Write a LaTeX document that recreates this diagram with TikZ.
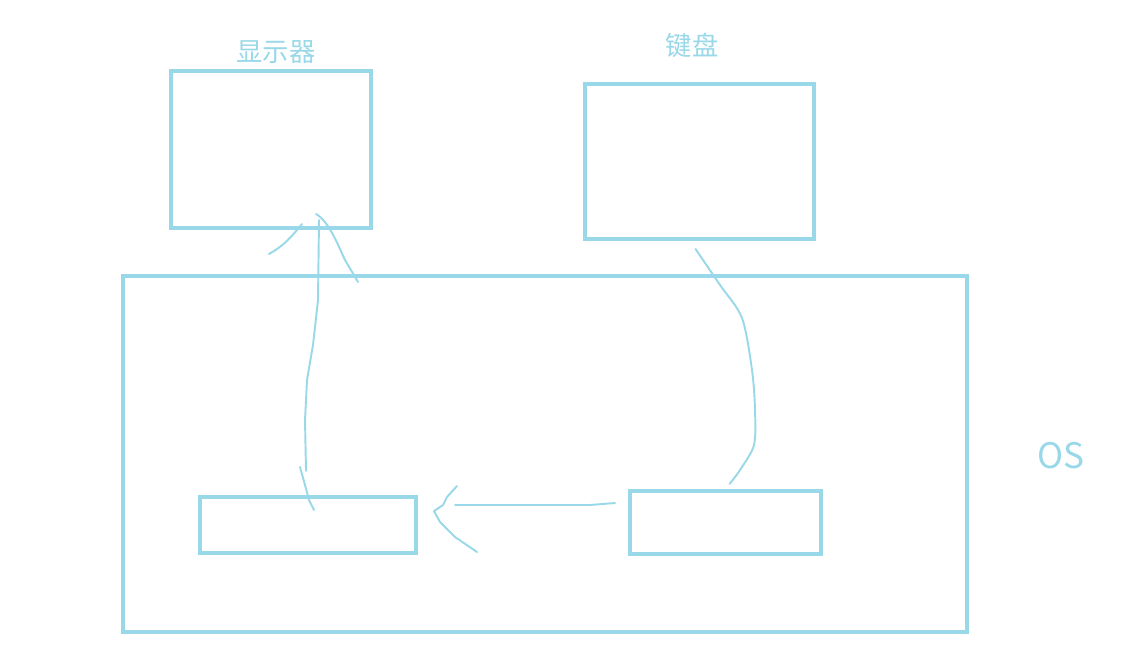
\documentclass[tikz,border=0pt]{standalone}
\usepackage{fontspec}
\newfontfamily\cjk{Noto Sans CJK SC}
\usetikzlibrary{calc}
\definecolor{SketchClr}{RGB}{152,216,232}

\begin{document}
\begin{tikzpicture}[x=0.02cm,y=-0.02cm,
  box/.style={draw=SketchClr,line width=2.3pt,inner sep=0pt},
  pen/.style={draw=SketchClr,line width=1.1pt,line cap=round,line join=round},
  lbl/.style={text=SketchClr,inner sep=0pt,font=\cjk\fontsize{15}{15}\selectfont}]
\useasboundingbox (0,0) rectangle (1138,661);

\node[box,minimum width=4cm,minimum height=3.14cm] (Mon) at (271,149.5) {};
\node[box,minimum width=4.58cm,minimum height=3.1cm] (Key) at (699.5,161.5) {};
\node[box,minimum width=16.88cm,minimum height=7.12cm] (OS) at (545,454) {};
\node[box,minimum width=4.32cm,minimum height=1.12cm] (Out) at (308,525) {};
\node[box,minimum width=3.82cm,minimum height=1.26cm] (In) at (725.5,522.5) {};

\node[lbl] (MonTxt) at (276,52) {显示器};
\node[lbl] (KeyTxt) at (692,45) {键盘};
\node[lbl,font=\cjk\fontsize{20}{20}\selectfont] (OSTxt) at (1061,456) {OS};

\coordinate (upA) at ($(Out.north)+(-2,-24)$);
\coordinate (upB) at ($(Mon.south)+(48,-10)$);
\draw[pen] (upA) -- (305,420) -- (307,380) -- (313,345) -- (318,300) -- (upB);
\draw[pen] (269,254) .. controls (285,245) and (292,236) .. (302,224);
\draw[pen] (316,214) .. controls (330,222) and (340,250) .. (345,260) -- (358,282);
\draw[pen] (300,467) -- (305,485) -- (309,500) -- (314,510);

\coordinate (kbA) at ($(Key.south)+(-4,8)$);
\coordinate (kbB) at ($(In.north)+(4,-5)$);
\draw[pen] plot[smooth] coordinates {(kbA) (720,285) (742,318) (752,370) (755,410) (754,445) (740,470) (kbB)};

\coordinate (hzA) at ($(In.west)+(-13,-19.5)$);
\coordinate (hzB) at ($(Out.east)+(37,-20)$);
\draw[pen] (hzA) -- (590,505) -- (hzB);
\draw[pen] (457,486) -- (447,497) -- (443,505) -- (434,511) -- (440,522) -- (455,537) -- (477,552);

\end{tikzpicture}
\end{document}
